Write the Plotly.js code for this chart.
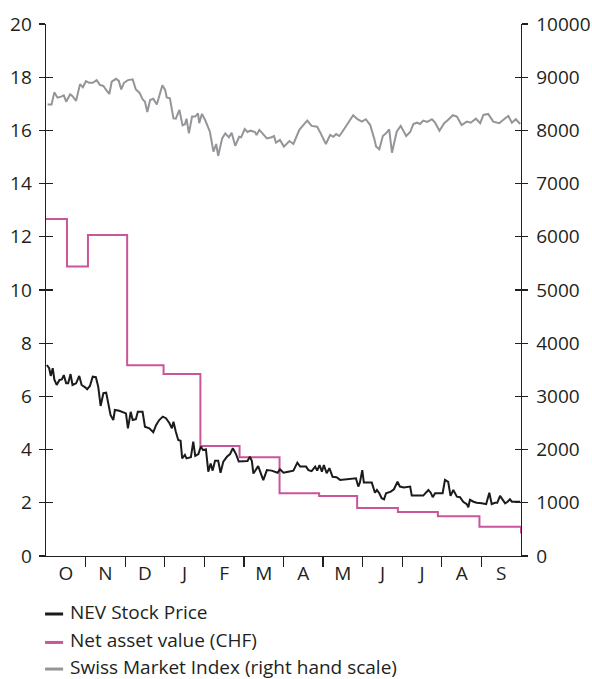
<!DOCTYPE html>
<html>
<head>
<meta charset="utf-8">
<script src="https://cdn.plot.ly/plotly-3.0.1.min.js"></script>
<style>html,body{margin:0;padding:0;background:#fff;}#chart{width:592px;height:679px;}</style>
</head>
<body>
<div id="chart"></div>
<script>
// Month labels (October to September); x values are in months since 1 October
const monthLabels = ["O","N","D","J","F","M","A","M","J","J","A","S"];
const monthLabelPos = [0.5,1.5,2.5,3.5,4.5,5.5,6.5,7.5,8.5,9.5,10.5,11.5];
const monthBoundaries = [1,2,3,4,5,6,7,8,9,10,11];

const seriesNames = ["NEV Stock Price","Net asset value (CHF)","Swiss Market Index (right hand scale)"];

// NEV stock price (CHF, left scale)
const nevX = [0.02,0.08,0.12,0.17,0.21,0.27,0.34,0.40,0.45,0.51,0.56,0.62,0.67,0.76,0.84,0.90,0.99,1.04,1.11,1.18,1.26,1.32,1.38,1.45,1.52,1.57,1.63,1.70,1.74,1.85,1.95,2.02,2.07,2.14,2.19,2.27,2.32,2.44,2.50,2.61,2.71,2.78,2.86,2.95,3.03,3.12,3.18,3.22,3.28,3.34,3.40,3.44,3.51,3.55,3.66,3.72,3.77,3.85,3.91,3.97,4.04,4.10,4.16,4.21,4.27,4.35,4.41,4.48,4.57,4.65,4.72,4.80,4.87,4.98,5.09,5.15,5.20,5.24,5.36,5.49,5.58,5.70,5.85,5.91,6.00,6.12,6.25,6.35,6.42,6.57,6.63,6.71,6.80,6.85,6.91,6.97,7.02,7.09,7.16,7.24,7.34,7.43,7.60,7.75,7.83,7.89,7.93,7.99,8.03,8.23,8.31,8.36,8.42,8.48,8.54,8.59,8.71,8.79,8.88,8.94,9.04,9.20,9.24,9.53,9.66,9.72,9.77,9.83,10.02,10.08,10.16,10.22,10.29,10.38,10.46,10.54,10.63,10.67,10.71,10.80,10.88,11.01,11.12,11.20,11.26,11.34,11.40,11.47,11.54,11.60,11.66,11.72,11.77,11.98];
const nevY = [7.18,7.06,6.77,7.06,6.64,6.43,6.62,6.64,6.80,6.49,6.49,6.84,6.43,6.49,6.77,6.43,6.34,6.27,6.39,6.74,6.72,6.36,5.64,6.12,6.14,5.80,5.30,5.11,5.49,5.46,5.39,5.36,4.80,5.42,5.11,5.14,5.42,5.42,4.86,4.80,4.65,4.92,5.11,5.24,5.18,4.99,4.80,5.05,4.67,4.36,4.33,3.67,3.80,3.67,3.71,4.30,3.76,3.83,4.11,3.98,4.01,3.17,3.48,3.21,3.58,3.58,3.13,3.55,3.73,3.83,4.05,3.83,3.55,3.55,3.57,3.73,3.58,3.10,3.38,2.85,3.23,3.21,3.13,3.26,3.13,3.17,3.21,3.51,3.36,3.36,3.23,3.19,3.36,3.21,3.42,3.17,3.42,3.11,3.30,2.98,2.96,2.86,2.88,2.92,2.92,2.61,2.76,3.23,2.76,2.76,2.38,2.48,2.36,2.17,2.13,2.36,2.42,2.51,2.79,2.61,2.58,2.61,2.27,2.27,2.48,2.38,2.21,2.36,2.36,2.86,2.79,2.26,2.48,2.23,2.21,2.04,1.95,1.83,2.11,2.04,2.00,1.98,1.95,2.38,1.95,2.00,2.00,2.26,2.11,1.98,2.04,2.13,2.04,2.04];

// Net asset value (CHF, left scale) - step changes
const navX = [0,0.53,1.06,2.05,2.97,3.90,4.89,5.90,6.90,7.86,8.89,9.90,10.95,12];
const navY = [12.67,10.88,12.07,7.17,6.84,4.14,3.71,2.36,2.26,1.80,1.65,1.49,1.10,0.85];

// Swiss Market Index (right scale)
const smiX = [0.04,0.14,0.21,0.29,0.38,0.45,0.51,0.61,0.67,0.76,0.86,0.93,1.01,1.09,1.18,1.28,1.36,1.45,1.52,1.60,1.66,1.77,1.84,1.90,1.97,2.07,2.19,2.27,2.36,2.44,2.50,2.56,2.63,2.71,2.80,2.86,2.94,3.01,3.05,3.13,3.22,3.28,3.37,3.45,3.51,3.55,3.61,3.69,3.77,3.84,3.87,3.94,4.02,4.14,4.23,4.30,4.35,4.45,4.53,4.62,4.69,4.78,4.88,4.93,5.02,5.09,5.17,5.28,5.32,5.39,5.58,5.70,5.76,5.81,5.91,6.01,6.08,6.15,6.25,6.33,6.40,6.50,6.60,6.71,6.85,6.94,7.07,7.18,7.26,7.33,7.41,7.47,7.55,7.66,7.76,7.87,7.98,8.08,8.19,8.29,8.34,8.42,8.51,8.59,8.67,8.74,8.86,8.96,9.10,9.20,9.28,9.37,9.45,9.53,9.63,9.75,9.83,9.94,10.06,10.14,10.28,10.38,10.50,10.63,10.73,10.86,10.97,11.05,11.17,11.30,11.45,11.57,11.68,11.77,11.87,11.98];
const smiY = [8485,8485,8715,8615,8635,8660,8540,8680,8645,8555,8870,8810,8925,8895,8895,8945,8855,8835,8760,8685,8915,8970,8930,8770,8895,8945,8960,8770,8710,8585,8540,8345,8570,8595,8485,8665,8850,8760,8620,8605,8225,8220,8385,8095,8115,8220,7945,8260,8260,8320,8135,8310,8195,7975,7600,7745,7520,7850,7945,7870,7955,7710,7880,7870,8025,7970,7995,7970,7915,8010,7850,7870,7895,7770,7820,7695,7755,7800,7745,7880,8010,8100,8185,8085,8070,7945,7745,7915,7880,7930,7895,7955,8040,8165,8285,8210,8165,8210,8100,7850,7695,7645,7895,7945,8020,7580,7975,8085,7895,7970,8120,8145,8120,8185,8160,8210,8145,7995,8135,8185,8285,8260,8100,8165,8145,8220,8135,8290,8310,8165,8135,8210,8270,8145,8210,8120];

const colors = {nev:"#1c1a1b", nav:"#c9559b", smi:"#939598", axis:"#231f20"};
const FONT = "Open Sans, Noto Sans, sans-serif";
const FS = 19;

const traces = [
  {x: smiX, y: smiY, type:"scatter", mode:"lines", name: seriesNames[2], xaxis:"x", yaxis:"y2",
   line:{color:colors.smi, width:2}, hoverinfo:"skip"},
  {x: navX, y: navY, type:"scatter", mode:"lines", name: seriesNames[1], xaxis:"x", yaxis:"y",
   line:{color:colors.nav, width:2, shape:"hv"}, hoverinfo:"skip"},
  {x: nevX, y: nevY, type:"scatter", mode:"lines", name: seriesNames[0], xaxis:"x", yaxis:"y",
   line:{color:colors.nev, width:2}, hoverinfo:"skip"}
];

const tickFont = {family: FONT, size: FS, color: colors.axis};

const legendRows = [-0.105, -0.1585, -0.2085];
const legendColors = [colors.nev, colors.nav, colors.smi];

const layout = {
  width: 592, height: 679,
  margin: {l:46, r:71, t:24, b:123, pad:0},
  paper_bgcolor:"#fff", plot_bgcolor:"#fff",
  showlegend:false,
  font:{family: FONT, size:FS, color: colors.axis},
  xaxis: {range:[0,12], tickmode:"array", tickvals: monthBoundaries, ticks:"outside", ticklen:10,
          tickwidth:1.2, tickcolor:colors.axis, showticklabels:false, showline:true, linecolor:colors.axis,
          linewidth:1.4, showgrid:false, zeroline:false, fixedrange:true},
  xaxis2: {range:[0,12], overlaying:"x", side:"bottom", tickmode:"array", tickvals: monthLabelPos,
           ticktext: monthLabels, ticks:"", showline:false, showgrid:false, zeroline:false,
           ticklabelstandoff:4, tickfont: tickFont, fixedrange:true},
  yaxis: {range:[0,20], dtick:2, tick0:0, ticks:"outside", ticklen:6, tickwidth:1.2, tickcolor:colors.axis,
          showline:true, linecolor:colors.axis, linewidth:1.4, showgrid:false, zeroline:false,
          ticklabelstandoff:3, tickfont: tickFont, fixedrange:true},
  yaxis3: {range:[0,20], dtick:2, tick0:0, overlaying:"y", side:"left", ticks:"inside", ticklen:7,
           tickwidth:1.2, tickcolor:colors.axis, showticklabels:false, showline:false, showgrid:false,
           zeroline:false, fixedrange:true},
  yaxis2: {range:[0,10000], dtick:1000, tick0:0, tickformat:"d", overlaying:"y", side:"right",
           ticks:"outside", ticklen:6, tickwidth:1.2, tickcolor:colors.axis, showline:true,
           linecolor:colors.axis, linewidth:1.4, showgrid:false, zeroline:false,
           ticklabelstandoff:4, tickfont: tickFont, fixedrange:true},
  yaxis4: {range:[0,10000], dtick:1000, tick0:0, overlaying:"y", side:"right", ticks:"inside", ticklen:6,
           tickwidth:1.2, tickcolor:colors.axis, showticklabels:false, showline:false, showgrid:false,
           zeroline:false, fixedrange:true},
  shapes: legendRows.map((y,i)=>({type:"line", xref:"paper", yref:"paper", x0:-0.002, x1:0.036,
           y0:y - 0.004, y1:y - 0.004, line:{color:legendColors[i], width:3}})),
  annotations: legendRows.map((y,i)=>({xref:"paper", yref:"paper", x:0.046, y:y, xanchor:"left",
           yanchor:"middle", text: seriesNames[i], showarrow:false,
           font:{family:FONT, size:FS, color:colors.axis}}))
};

// invisible helper traces to activate the overlay axes (crossing ticks, month labels)
traces.push({x:[0], y:[0], xaxis:"x2", yaxis:"y3", mode:"markers", marker:{opacity:0}, hoverinfo:"skip", showlegend:false});
traces.push({x:[0], y:[0], xaxis:"x", yaxis:"y4", mode:"markers", marker:{opacity:0}, hoverinfo:"skip", showlegend:false});

Plotly.newPlot("chart", traces, layout, {displayModeBar:false, staticPlot:true});
</script>
</body>
</html>
